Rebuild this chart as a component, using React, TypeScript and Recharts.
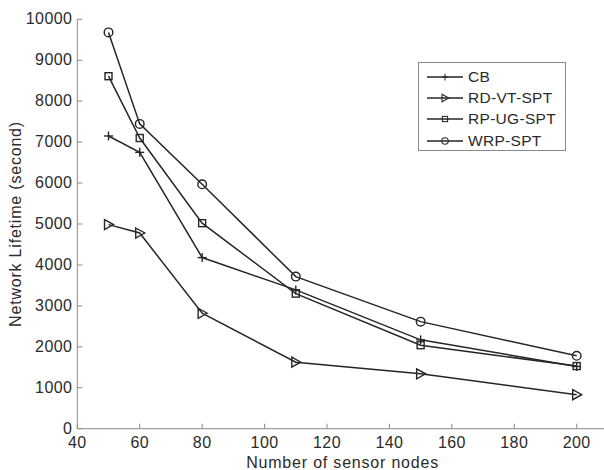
import React from 'react';
import { LineChart, Line, XAxis, YAxis } from 'recharts';

const nodes = [50, 60, 80, 110, 150, 200];
const cb = [7150, 6750, 4180, 3390, 2170, 1520];
const rdvt = [4985, 4780, 2820, 1625, 1340, 830];
const rpug = [8610, 7100, 5020, 3300, 2040, 1530];
const wrp = [9680, 7445, 5970, 3715, 2615, 1780];

const xTicks = [40, 60, 80, 100, 120, 140, 160, 180, 200];
const yTicks = [0, 1000, 2000, 3000, 4000, 5000, 6000, 7000, 8000, 9000, 10000];

const data = nodes.map((n, i) => ({ n, cb: cb[i], rdvt: rdvt[i], rpug: rpug[i], wrp: wrp[i] }));

const LINE = '#262626';
const AXIS = '#8a8a8a';
const TEXT = '#2b2b2b';
const FONT = '"Liberation Sans", Arial, sans-serif';

type MarkerKind = 'plus' | 'tri' | 'square' | 'circle';

const Marker = ({ kind, cx, cy }: { kind: MarkerKind; cx: number; cy: number }) => {
  const s = { stroke: LINE, strokeWidth: 1.4, fill: 'none' };
  if (kind === 'plus')
    return (
      <g>
        <line x1={cx - 4.5} y1={cy} x2={cx + 4.5} y2={cy} {...s} />
        <line x1={cx} y1={cy - 4.5} x2={cx} y2={cy + 4.5} {...s} />
      </g>
    );
  if (kind === 'tri')
    return <polygon points={`${cx - 4},${cy - 5} ${cx + 5},${cy} ${cx - 4},${cy + 5}`} {...s} />;
  if (kind === 'square') return <rect x={cx - 3.5} y={cy - 3.5} width={7} height={7} {...s} />;
  return <circle cx={cx} cy={cy} r={4.3} {...s} />;
};

const dotFor = (kind: MarkerKind) => (props: any) =>
  <Marker key={`${kind}-${props.index}`} kind={kind} cx={props.cx} cy={props.cy} />;

const XTick = (props: any) => {
  const { x, y, payload } = props;
  return (
    <g>
      <line x1={x} y1={y} x2={x} y2={y - 5} stroke={AXIS} strokeWidth={1} />
      <text x={x} y={y + 19.5} textAnchor="middle" fontSize={16} letterSpacing={0.4} fill={TEXT} fontFamily={FONT}>
        {payload.value}
      </text>
    </g>
  );
};

const XTopTick = (props: any) => {
  const { x, y } = props;
  return <line x1={x} y1={y} x2={x} y2={y + 5} stroke={AXIS} strokeWidth={1} />;
};

const YTick = (props: any) => {
  const { x, y, payload } = props;
  return (
    <g>
      <line x1={x} y1={y} x2={x + 5} y2={y} stroke={AXIS} strokeWidth={1} />
      <text x={x - 5} y={y + 5} textAnchor="end" fontSize={16} letterSpacing={0.4} fill={TEXT} fontFamily={FONT}>
        {payload.value}
      </text>
    </g>
  );
};

const YRightTick = (props: any) => {
  const { x, y } = props;
  return <line x1={x} y1={y} x2={x - 5} y2={y} stroke={AXIS} strokeWidth={1} />;
};

const legendItems: { name: string; kind: MarkerKind }[] = [
  { name: 'CB', kind: 'plus' },
  { name: 'RD-VT-SPT', kind: 'tri' },
  { name: 'RP-UG-SPT', kind: 'square' },
  { name: 'WRP-SPT', kind: 'circle' },
];

const LegendBox = () => (
  <div
    style={{
      position: 'absolute',
      left: 418,
      top: 62,
      border: `1px solid ${AXIS}`,
      background: '#fff',
      width: 148,
      height: 89,
      boxSizing: 'border-box',
      paddingTop: 3,
    }}
  >
    {legendItems.map((it) => (
      <div key={it.name} style={{ display: 'flex', alignItems: 'center', height: 21.3 }}>
        <svg width={50} height={16} style={{ flex: 'none' }}>
          <line x1={8} y1={8} x2={44} y2={8} stroke={LINE} strokeWidth={1.4} />
          <g transform="translate(26,8) scale(0.75) translate(-26,-8)">
            <Marker kind={it.kind} cx={26} cy={8} />
          </g>
        </svg>
        <span style={{ fontFamily: FONT, fontSize: 15.5, color: TEXT, marginLeft: -1, lineHeight: '16px', letterSpacing: 0.3 }}>{it.name}</span>
      </div>
    ))}
  </div>
);

export default function App() {
  return (
    <div style={{ position: 'absolute', left: 0, top: 0, width: 604, height: 470, overflow: 'hidden', background: '#fff' }}>
      <LineChart width={620} height={470} data={data} margin={{ top: 19.3, right: 12.1, bottom: 0, left: 0 }}>
        <XAxis
          dataKey="n"
          type="number"
          domain={[40, 210]}
          ticks={xTicks}
          interval={0}
          height={41.3}
          tickSize={0}
          tickMargin={0}
          tickLine={false}
          tick={<XTick />}
          axisLine={{ stroke: AXIS, strokeWidth: 1 }}
          label={(p: any) => {
            const vb = p.viewBox || {};
            return (
              <text x={vb.x + vb.width / 2} y={468} textAnchor="middle" fontSize={16} letterSpacing={0.8} fill={TEXT} fontFamily={FONT}>
                Number of sensor nodes
              </text>
            );
          }}
        />
        <XAxis
          xAxisId="top"
          orientation="top"
          dataKey="n"
          type="number"
          domain={[40, 210]}
          ticks={xTicks}
          interval={0}
          height={0}
          tickSize={0}
          tickMargin={0}
          tickLine={false}
          tick={<XTopTick />}
          axisLine={{ stroke: AXIS, strokeWidth: 1 }}
        />
        <YAxis
          type="number"
          domain={[0, 10000]}
          ticks={yTicks}
          interval={0}
          width={77.3}
          tickSize={0}
          tickMargin={0}
          tickLine={false}
          tick={<YTick />}
          axisLine={{ stroke: AXIS, strokeWidth: 1 }}
          label={() => {
            const cy = 19.3 + 409.4 / 2;
            return (
              <text
                x={15}
                y={cy}
                transform={`rotate(-90, 15, ${cy})`}
                textAnchor="middle"
                dominantBaseline="central"
                fontSize={16}
                letterSpacing={0.8}
                fill={TEXT}
                fontFamily={FONT}
              >
                Network Lifetime (second)
              </text>
            );
          }}
        />
        <YAxis
          yAxisId="right"
          orientation="right"
          type="number"
          domain={[0, 10000]}
          ticks={yTicks}
          interval={0}
          width={0}
          tickSize={0}
          tickMargin={0}
          tickLine={false}
          tick={<YRightTick />}
          axisLine={{ stroke: AXIS, strokeWidth: 1 }}
        />
        <Line dataKey="cb" name="CB" stroke={LINE} strokeWidth={1.5} dot={dotFor('plus')} isAnimationActive={false} />
        <Line dataKey="rdvt" name="RD-VT-SPT" stroke={LINE} strokeWidth={1.5} dot={dotFor('tri')} isAnimationActive={false} />
        <Line dataKey="rpug" name="RP-UG-SPT" stroke={LINE} strokeWidth={1.5} dot={dotFor('square')} isAnimationActive={false} />
        <Line dataKey="wrp" name="WRP-SPT" stroke={LINE} strokeWidth={1.5} dot={dotFor('circle')} isAnimationActive={false} />
      </LineChart>
      <LegendBox />
    </div>
  );
}
